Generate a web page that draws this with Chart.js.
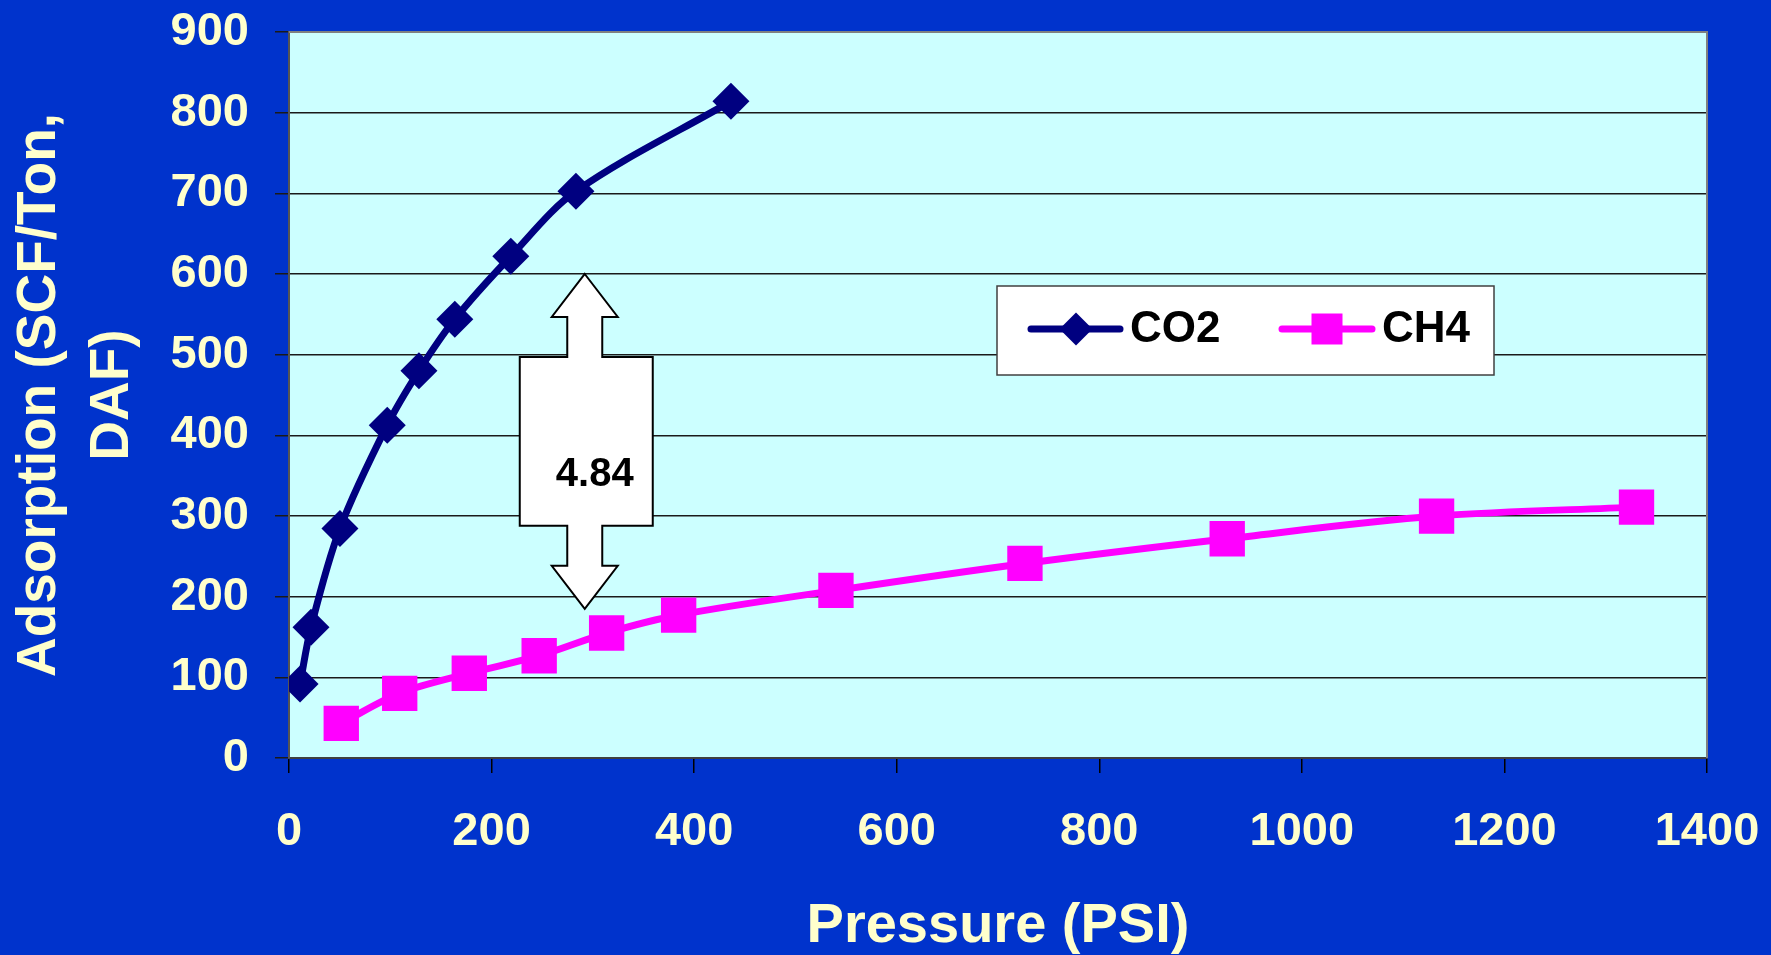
<!DOCTYPE html>
<html>
<head>
<meta charset="utf-8">
<title>Adsorption isotherms</title>
<script src="https://cdn.jsdelivr.net/npm/chart.js@4/dist/chart.umd.min.js"></script>
<style>
  html, body { margin: 0; padding: 0; background: #0033CC; overflow: hidden; }
  #wrap { width: 1771px; height: 955px; }
</style>
</head>
<body>
<div id="wrap"><canvas id="c" width="1771" height="955"></canvas></div>
<script>
// CO2 isotherm: pressure (PSI) and adsorbed volume (SCF/Ton, DAF)
const co2Pressure   = [10.9, 21.7, 50.3, 97, 128.3, 163.7, 219, 283.3, 436.3];
const co2Adsorption = [91.7, 162, 284.6, 412.6, 480, 544, 622, 702.6, 814];

// CH4 isotherm
const ch4Pressure   = [51.6, 109.3, 178, 247, 313.6, 384.7, 540, 726.6, 926.3, 1133, 1330.4];
const ch4Adsorption = [43, 80.2, 105, 126.8, 154.9, 177.2, 207.8, 241.2, 271.8, 299.9, 311];

// axis ticks
const pressureTicks   = [0, 200, 400, 600, 800, 1000, 1200, 1400];
const adsorptionTicks = [0, 100, 200, 300, 400, 500, 600, 700, 800, 900];

// CO2 : CH4 ratio callout
const ratioLabel = '4.84';
const ratioAt = { x: 292, top: 600, bottom: 185 };

const FONT = '"Liberation Sans", Arial, Helvetica, sans-serif';
const TICK_COLOR = '#FFFFCC';

function toPoints(xs, ys) { return xs.map((x, i) => ({ x: x, y: ys[i] })); }

// page and plot backgrounds
const backgroundPlugin = {
  id: 'backgrounds',
  beforeDraw(chart) {
    const { ctx, chartArea: a } = chart;
    ctx.save();
    ctx.fillStyle = '#0033CC';
    ctx.fillRect(0, 0, chart.width, chart.height);
    ctx.fillStyle = '#CCFFFF';
    ctx.fillRect(a.left, a.top, a.right - a.left, a.bottom - a.top);
    ctx.restore();
  },
  beforeDatasetsDraw(chart) {
    const { ctx, chartArea: a } = chart;
    ctx.save();
    ctx.strokeStyle = '#808080';
    ctx.lineWidth = 2;
    ctx.beginPath();
    ctx.moveTo(a.left, a.top);
    ctx.lineTo(a.right, a.top);
    ctx.lineTo(a.right, a.bottom);
    ctx.stroke();
    ctx.restore();
  }
};

// double-headed arrow with the ratio between the two isotherms
const ratioArrowPlugin = {
  id: 'ratioArrow',
  afterDatasetsDraw(chart) {
    const { ctx } = chart;
    const xs = chart.scales.x, ys = chart.scales.y;
    const cx = xs.getPixelForValue(ratioAt.x);
    const top = ys.getPixelForValue(ratioAt.top);
    const bot = ys.getPixelForValue(ratioAt.bottom);
    const head = 43, neck = 83;
    const headW = 33, shaftW = 17.5, boxL = 65, boxR = 68;
    ctx.save();
    ctx.beginPath();
    ctx.moveTo(cx, top);
    ctx.lineTo(cx + headW, top + head);
    ctx.lineTo(cx + shaftW, top + head);
    ctx.lineTo(cx + shaftW, top + neck);
    ctx.lineTo(cx + boxR, top + neck);
    ctx.lineTo(cx + boxR, bot - neck);
    ctx.lineTo(cx + shaftW, bot - neck);
    ctx.lineTo(cx + shaftW, bot - head);
    ctx.lineTo(cx + headW, bot - head);
    ctx.lineTo(cx, bot);
    ctx.lineTo(cx - headW, bot - head);
    ctx.lineTo(cx - shaftW, bot - head);
    ctx.lineTo(cx - shaftW, bot - neck);
    ctx.lineTo(cx - boxL, bot - neck);
    ctx.lineTo(cx - boxL, top + neck);
    ctx.lineTo(cx - shaftW, top + neck);
    ctx.lineTo(cx - shaftW, top + head);
    ctx.lineTo(cx - headW, top + head);
    ctx.closePath();
    ctx.fillStyle = '#FFFFFF';
    ctx.fill();
    ctx.lineWidth = 2;
    ctx.lineJoin = 'miter';
    ctx.strokeStyle = '#000000';
    ctx.stroke();
    ctx.fillStyle = '#000000';
    ctx.font = 'bold 40px ' + FONT;
    ctx.textAlign = 'center';
    ctx.textBaseline = 'middle';
    ctx.fillText(ratioLabel, cx + 10, (top + bot) / 2 + 34);
    ctx.restore();
  }
};

// boxed legend inside the plot
const boxLegendPlugin = {
  id: 'boxLegend',
  afterDraw(chart) {
    const { ctx } = chart;
    const box = { x: 997, y: 286, w: 497, h: 89 };
    const cy = 329;
    ctx.save();
    ctx.fillStyle = '#FFFFFF';
    ctx.fillRect(box.x, box.y, box.w, box.h);
    ctx.strokeStyle = '#404040';
    ctx.lineWidth = 1.5;
    ctx.strokeRect(box.x, box.y, box.w, box.h);

    const items = [
      { ds: chart.data.datasets[0], x0: 1031, x1: 1120, mx: 1076, tx: 1130, size: 16.5 },
      { ds: chart.data.datasets[1], x0: 1282, x1: 1372, mx: 1327, tx: 1382, size: 15.5 }
    ];
    items.forEach(it => {
      const c = it.ds.borderColor;
      ctx.strokeStyle = c;
      ctx.lineWidth = 7;
      ctx.lineCap = 'round';
      ctx.beginPath();
      ctx.moveTo(it.x0, cy);
      ctx.lineTo(it.x1, cy);
      ctx.stroke();
      ctx.fillStyle = c;
      ctx.beginPath();
      if (it.ds.pointStyle === 'rectRot') {
        ctx.moveTo(it.mx, cy - it.size);
        ctx.lineTo(it.mx + it.size, cy);
        ctx.lineTo(it.mx, cy + it.size);
        ctx.lineTo(it.mx - it.size, cy);
        ctx.closePath();
      } else {
        ctx.rect(it.mx - it.size, cy - it.size, it.size * 2, it.size * 2);
      }
      ctx.fill();
      ctx.fillStyle = '#000000';
      ctx.font = 'bold 44px ' + FONT;
      ctx.textAlign = 'left';
      ctx.textBaseline = 'middle';
      ctx.fillText(it.ds.label, it.tx, cy + 1);
    });
    ctx.restore();
  }
};

new Chart(document.getElementById('c'), {
  type: 'scatter',
  data: {
    datasets: [
      {
        label: 'CO2',
        data: toPoints(co2Pressure, co2Adsorption),
        showLine: true,
        borderColor: '#000080',
        backgroundColor: '#000080',
        borderWidth: 7,
        tension: 0.33,
        pointStyle: 'rectRot',
        pointRadius: 18.5,
        pointBorderWidth: 0,
        pointBackgroundColor: '#000080'
      },
      {
        label: 'CH4',
        data: toPoints(ch4Pressure, ch4Adsorption),
        showLine: true,
        borderColor: '#FF00FF',
        backgroundColor: '#FF00FF',
        borderWidth: 7,
        tension: 0.33,
        pointStyle: 'rect',
        pointRadius: 25,
        pointBorderWidth: 0,
        pointBackgroundColor: '#FF00FF'
      }
    ]
  },
  options: {
    responsive: false,
    animation: false,
    devicePixelRatio: 1,
    layout: { padding: { left: 0, right: 64, top: 32, bottom: 0 } },
    plugins: {
      legend: { display: false },
      tooltip: { enabled: false }
    },
    scales: {
      x: {
        type: 'linear',
        min: 0,
        max: 1400,
        afterBuildTicks(scale) { scale.ticks = pressureTicks.map(v => ({ value: v })); },
        afterFit(scale) {
          scale.height = 197;
          scale.paddingLeft = 0;
          scale.paddingRight = 0;
        },
        ticks: {
          color: TICK_COLOR,
          padding: 31,
          maxRotation: 0,
          callback: v => String(v),
          font: { family: FONT, size: 47, weight: 'bold', lineHeight: 1.2 }
        },
        grid: {
          drawOnChartArea: false,
          drawTicks: true,
          tickLength: 15,
          color: '#000000',
          lineWidth: 1.5
        },
        border: { display: true, color: '#404040', width: 2 },
        title: {
          display: true,
          text: 'Pressure (PSI)',
          color: TICK_COLOR,
          font: { family: FONT, size: 56, weight: 'bold', lineHeight: 1 },
          padding: { top: 0, bottom: 0 }
        }
      },
      y: {
        type: 'linear',
        min: 0,
        max: 900,
        afterBuildTicks(scale) { scale.ticks = adsorptionTicks.map(v => ({ value: v })); },
        afterFit(scale) {
          scale.width = 289;
          scale.paddingTop = 0;
          scale.paddingBottom = 0;
        },
        ticks: {
          color: TICK_COLOR,
          padding: 26,
          callback: v => String(v),
          font: { family: FONT, size: 47, weight: 'bold', lineHeight: 1.2 }
        },
        grid: {
          drawOnChartArea: true,
          drawTicks: true,
          tickLength: 14,
          color: '#1a1a1a',
          lineWidth: 1.5
        },
        border: { display: true, color: '#555555', width: 2 },
        title: {
          display: true,
          text: ['Adsorption (SCF/Ton,', 'DAF)'],
          color: TICK_COLOR,
          font: { family: FONT, size: 55, weight: 'bold', lineHeight: 1.33 },
          padding: { top: 3.5, bottom: 0 }
        }
      }
    }
  },
  plugins: [backgroundPlugin, ratioArrowPlugin, boxLegendPlugin]
});
</script>
</body>
</html>
